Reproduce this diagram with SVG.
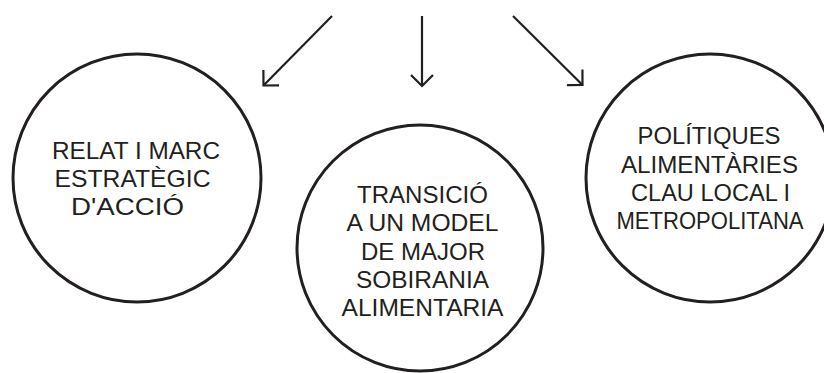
<svg xmlns="http://www.w3.org/2000/svg" width="824" height="373" viewBox="0 0 824 373">
<style>
.node circle{fill:#fff;stroke:#231f20;stroke-width:3}
.node text{font-family:"Liberation Sans",Arial,sans-serif;font-size:24px;fill:#231f20;text-anchor:middle}
.conn line{stroke:#231f20;stroke-width:2.2;fill:none}
.head{stroke:#231f20;stroke-width:2.2;fill:none;stroke-linecap:butt;stroke-linejoin:miter}
</style>
<defs>
<marker id="arr" markerUnits="userSpaceOnUse" viewBox="-14 -14 16 28" refX="0" refY="0" markerWidth="16" markerHeight="28" orient="auto" overflow="visible">
<path class="head" d="M-11,-11 L0,0 L-11,11"/>
</marker>
</defs>
<rect width="824" height="373" fill="#fff"/>
<g id="connectors" class="conn">
<line x1="332" y1="16" x2="263.5" y2="85.5" marker-end="url(#arr)"/>
<line x1="422" y1="16" x2="422" y2="86" marker-end="url(#arr)"/>
<line x1="513" y1="16" x2="582.5" y2="85" marker-end="url(#arr)"/>
</g>
<g id="node-relat" class="node">
<circle cx="137" cy="178" r="124"/>
<text x="136" y="159" textLength="168" lengthAdjust="spacingAndGlyphs">RELAT I MARC</text>
<text x="132.5" y="187" textLength="156" lengthAdjust="spacingAndGlyphs">ESTRATÈGIC</text>
<text x="127.5" y="215" textLength="113" lengthAdjust="spacingAndGlyphs">D'ACCIÓ</text>
</g>
<g id="node-transicio" class="node">
<circle cx="420" cy="248" r="123"/>
<text x="422.5" y="203" textLength="131" lengthAdjust="spacingAndGlyphs">TRANSICIÓ</text>
<text x="422.5" y="231" textLength="152" lengthAdjust="spacingAndGlyphs">A UN MODEL</text>
<text x="423" y="260" textLength="124" lengthAdjust="spacingAndGlyphs">DE MAJOR</text>
<text x="422.5" y="288" textLength="133" lengthAdjust="spacingAndGlyphs">SOBIRANIA</text>
<text x="422.5" y="316" textLength="162" lengthAdjust="spacingAndGlyphs">ALIMENTARIA</text>
</g>
<g id="node-politiques" class="node">
<circle cx="710" cy="178" r="124"/>
<text x="709" y="144" textLength="143" lengthAdjust="spacingAndGlyphs">POLÍTIQUES</text>
<text x="709.5" y="173" textLength="177" lengthAdjust="spacingAndGlyphs">ALIMENTÀRIES</text>
<text x="710.5" y="201" textLength="159" lengthAdjust="spacingAndGlyphs">CLAU LOCAL I</text>
<text x="710" y="229" textLength="187" lengthAdjust="spacingAndGlyphs">METROPOLITANA</text>
</g>
</svg>
